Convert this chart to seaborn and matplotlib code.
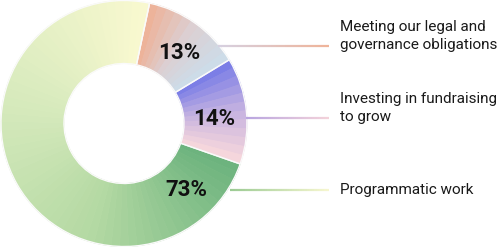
import matplotlib
matplotlib.use("Agg")
import matplotlib.pyplot as plt
import seaborn as sns
import numpy as np

sns.set_theme(style="white")
plt.rcParams['font.family'] = ['Inter', 'DejaVu Sans']

# Data
categories = ["Meeting our legal and\ngovernance obligations",
              "Investing in fundraising\nto grow",
              "Programmatic work"]
shares = [13, 14, 73]
pct_labels = ["13%", "14%", "73%"]

# Gradient anchors per category (start -> end, clockwise)
grad_colors = [
    ["#EDB39A", "#DCCFD2", "#CDDCE8"],
    ["#7C7EE6", "#C6B3E0", "#F5D6DC"],
    ["#6DB37E", "#B4D9A3", "#D7EABD", "#F8F8CF"],
]
line_colors = [
    ["#D6D0E0", "#EFB49A"],
    ["#B9A6E0", "#F3D2DA"],
    ["#9CCB94", "#F6F6CF"],
]

W, H = 500, 247
fig = plt.figure(figsize=(W / 100, H / 100), dpi=100)
ax = fig.add_axes([0, 0, 1, 1])

cx, cy = 124, H - 123.5
R_out, R_in = 123, 60
start = 90 - 12  # degrees, matplotlib convention

# Build sub-slices for the gradient
sub_vals, sub_cols = [], []
for v, anchors in zip(shares, grad_colors):
    n = max(int(v * 0.9), 8)
    pal = sns.blend_palette(anchors, n)
    for c in pal:
        sub_vals.append(v / n)
        sub_cols.append(c)

ax.pie(sub_vals, colors=sub_cols, startangle=start, counterclock=False,
       radius=R_out, center=(cx, cy),
       wedgeprops=dict(width=R_out - R_in, linewidth=0.6))
for p, c in zip(ax.patches, sub_cols):
    p.set_edgecolor(c)

# thin white separators between main segments
ax.pie(shares, colors=["none"] * 3, startangle=start, counterclock=False,
       radius=R_out, center=(cx, cy),
       wedgeprops=dict(width=R_out - R_in, linewidth=1.0, edgecolor="#FAFAFA", fill=False))

# percentage labels inside segments
label_pos = [(179, H - 53), (214, H - 119), (186, H - 190)]
for (lx, ly), t in zip(label_pos, pct_labels):
    ax.text(lx, ly, t, fontsize=16, fontweight="bold", color="#111111",
            ha="center", va="center", family=["Roboto", "DejaVu Sans"])

# leader lines with gradient
line_y = [H - 46, H - 118, H - 190]
line_x0 = [218, 246, 230]
line_x1 = 329
for y, x0, cols in zip(line_y, line_x0, line_colors):
    n = 40
    xs = np.linspace(x0, line_x1, n + 1)
    pal = sns.blend_palette(cols, n)
    for i in range(n):
        ax.plot([xs[i], xs[i + 1]], [y, y], color=pal[i], linewidth=1.6,
                solid_capstyle="butt")

# category labels
for y, t in zip(line_y, categories):
    nl = t.count("\n")
    ty = y + (10 * nl)
    ax.text(340, ty, t, fontsize=11, color="#1a1a1a", ha="left", va="center",
            linespacing=1.3, family=["Roboto", "DejaVu Sans"])

ax.set_xlim(0, W)
ax.set_ylim(0, H)
ax.set_aspect("equal")
ax.axis("off")

fig.savefig("out.png", dpi=100)
